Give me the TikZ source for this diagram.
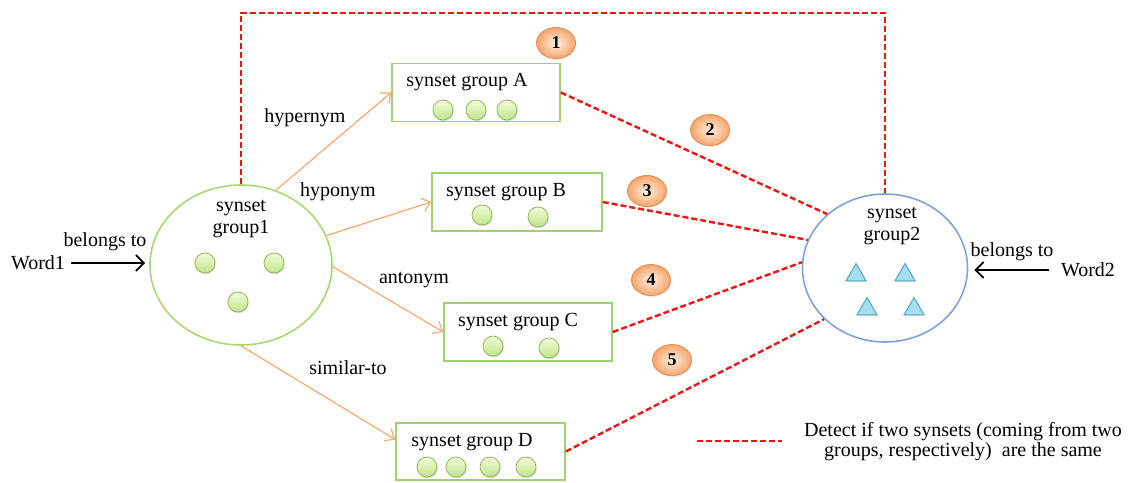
\documentclass[tikz,border=0pt]{standalone}
\usepackage{fontspec}
\setmainfont{Liberation Serif}
\usetikzlibrary{shapes.geometric,arrows.meta,shadows}
\definecolor{boxgreen}{RGB}{160,210,110}
\definecolor{ellgreen}{RGB}{170,215,115}
\definecolor{ellblue}{RGB}{130,162,212}
\definecolor{arrorange}{RGB}{247,168,115}
\definecolor{dashred}{RGB}{240,20,20}
\definecolor{badgetop}{RGB}{254,240,228}
\definecolor{badgebot}{RGB}{245,165,105}
\definecolor{badgeline}{RGB}{228,150,95}
\definecolor{dottop}{RGB}{242,251,220}
\definecolor{dotbot}{RGB}{192,228,135}
\definecolor{dotline}{RGB}{145,185,90}
\definecolor{trifill}{RGB}{165,222,240}
\definecolor{triline}{RGB}{75,170,198}
\begin{document}
\begin{tikzpicture}[x=0.5pt,y=-0.5pt,font=\fontsize{10}{11}\selectfont,
  groupbox/.style={draw=boxgreen,line width=0.8pt,rectangle,inner sep=0pt,minimum height=29pt},
  groupell/.style={ellipse,inner sep=0pt,line width=0.8pt},
  lbl/.style={inner sep=1pt},
  dot/.style={circle,draw=dotline,line width=0.4pt,minimum size=10pt,inner sep=0pt,
    top color=dottop,bottom color=dotbot,
    drop shadow={opacity=0.25,shadow xshift=0.4pt,shadow yshift=-0.7pt}},
  tri/.style={regular polygon,regular polygon sides=3,draw=triline,line width=0.5pt,fill=trifill,
    minimum size=11.5pt,inner sep=0pt,
    drop shadow={opacity=0.25,shadow xshift=0.4pt,shadow yshift=-0.7pt}},
  badge/.style={ellipse,draw=badgeline,line width=0.5pt,minimum width=19.5pt,minimum height=15.5pt,inner sep=0pt,
    inner color=badgetop,outer color=badgebot,font=\fontsize{9}{10}\selectfont\bfseries,
    drop shadow={opacity=0.2,shadow xshift=0.4pt,shadow yshift=-0.7pt}},
  rel/.style={draw=arrorange,line width=0.6pt,-{Straight Barb[length=4pt,width=7pt]}},
  same/.style={draw=dashred,line width=1.2pt,dash pattern=on 3pt off 1.5pt},
  belong/.style={draw=black,line width=0.9pt,-{Straight Barb[length=4pt,width=8pt]}}]
\useasboundingbox (0,0) rectangle (1134,482);

% ellipses
\node[groupell,draw=ellgreen,minimum width=91pt,minimum height=80pt] (e1) at (241,265) {};
\node[groupell,draw=ellblue,minimum width=82.5pt,minimum height=74pt] (e2) at (885,268) {};
\node[lbl,align=center,font=\fontsize{10}{11}\selectfont] (t1) at (241,219) {synset\\group1};
\node[lbl,align=center,font=\fontsize{10}{11}\selectfont] (t2) at (892,226) {synset\\group2};

\node[dot] (e1a) at (205,263) {};
\node[dot] (e1b) at (274,263) {};
\node[dot] (e1c) at (238,302) {};

\node[tri] (e2a) at (856,275) {};
\node[tri] (e2b) at (905,275) {};
\node[tri] (e2c) at (867,309) {};
\node[tri] (e2d) at (914,309) {};

% boxes
\node[groupbox,minimum width=84pt] (A) at (476,92.5) {};
\node[groupbox,minimum width=85pt] (B) at (517,202) {};
\node[groupbox,minimum width=84pt] (C) at (528,332) {};
\node[groupbox,minimum width=84.5pt,minimum height=28.5pt] (D) at (480.5,451.5) {};

\node[lbl] (tA) at (467,82) {synset group A};
\node[lbl] (tB) at (506,192) {synset group B};
\node[lbl] (tC) at (518,322) {synset group C};
\node[lbl] (tD) at (472,442) {synset group D};

\node[dot] (Aa) at (443,110) {};
\node[dot] (Ab) at (476,110) {};
\node[dot] (Ac) at (507,110) {};
\node[dot] (Ba) at (482,215) {};
\node[dot] (Bb) at (538,217) {};
\node[dot] (Ca) at (493,346) {};
\node[dot] (Cb) at (549,348) {};
\node[dot] (Da) at (427,467) {};
\node[dot] (Db) at (456,467) {};
\node[dot] (Dc) at (490,467) {};
\node[dot] (Dd) at (526,467) {};

% badges
\node[badge] (n1) at (556,43) {1};
\node[badge] (n2) at (710,130) {2};
\node[badge] (n3) at (647,191) {3};
\node[badge] (n4) at (651,280) {4};
\node[badge] (n5) at (672,360) {5};

% words
\node[lbl] (w1) at (38,263) {Word1};
\node[lbl] (b1) at (105,242) {belongs to};
\node[lbl] (w2) at (1088,270) {Word2};
\node[lbl] (b2) at (1012,252) {belongs to};
\draw[belong,shorten <=2pt,shorten >=2pt] (w1.east) -- (w1.east -| e1.west);
\draw[belong,shorten <=5pt,shorten >=3pt] (w2.west) -- (w2.west -| e2.east);

% relations
\draw[rel] (e1.65.6) -- (A.west);
\draw[rel] (e1.19) -- (B.west);
\draw[rel] (e1.-1) -- (C.west);
\draw[rel] (e1.south) -- (D.172);
\node[lbl] (lhyper) at (305,118) {hypernym};
\node[lbl] (lhypo) at (338,192) {hyponym};
\node[lbl] (lanto) at (414,280) {antonym};
\node[lbl] (lsim) at (348,368) {similar-to};

% same-synset checks
\coordinate (top) at (560,13);
\draw[same] (e1.north) |- (top) -| (e2.north);
\draw[same] (A.east) -- (e2.137.5);
\draw[same] (B.east) -- (e2.160);
\draw[same] (C.east) -- (e2.176);
\draw[same] (D.east) -- (e2.220);

% legend
\coordinate (lg1) at (697,441);
\coordinate (lg2) at (782,441);
\draw[same] (lg1) -- (lg2);
\node[lbl,align=center,font=\fontsize{10}{10}\selectfont] (lgt) at (963,442) {Detect if two synsets (coming from two\\groups, respectively)\ \ are the same};
\end{tikzpicture}
\end{document}
